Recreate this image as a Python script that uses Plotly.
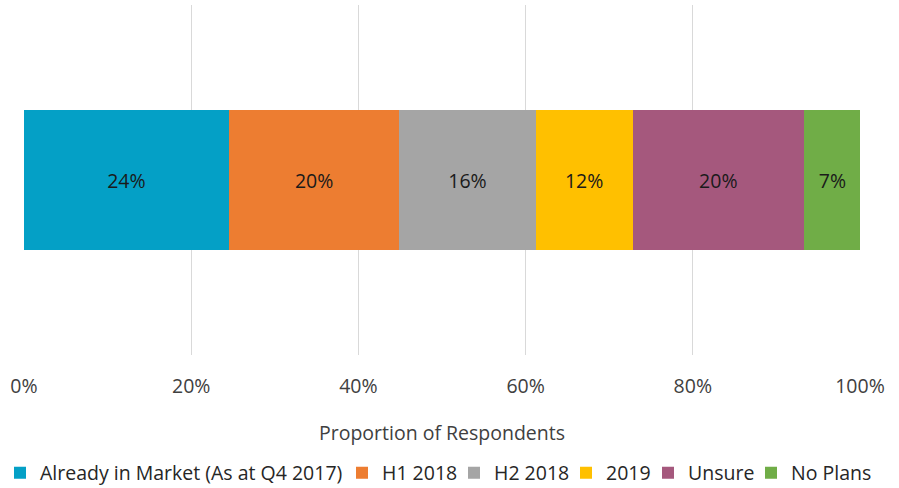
import plotly.graph_objects as go

categories = ["Already in Market (As at Q4 2017)", "H1 2018", "H2 2018", "2019", "Unsure", "No Plans"]
values = [24.5, 20.4, 16.3, 11.6, 20.5, 6.8]
labels = ["24%", "20%", "16%", "12%", "20%", "7%"]
colors = ["#04A0C6", "#ED7D31", "#A5A5A5", "#FFC000", "#A5587D", "#70AD47"]
tick_vals = [0, 20, 40, 60, 80, 100]
tick_text = ["0%", "20%", "40%", "60%", "80%", "100%"]
axis_title = "Proportion of Respondents"

# legend text start positions (px) for each entry
legend_text_px = [40, 382, 494, 606, 688, 791]

W, H = 899, 488
FONT = "Open Sans"

fig = go.Figure()
legend_names = ["legend", "legend2", "legend3", "legend4", "legend5", "legend6"]
for name, v, lab, c, lg in zip(categories, values, labels, colors, legend_names):
    fig.add_trace(go.Bar(
        x=[v], y=["Respondents"], name=name, orientation="h",
        marker=dict(color=c, line=dict(width=0)),
        text=[lab], textposition="inside", insidetextanchor="middle",
        textfont=dict(family=FONT, size=19.5, color="#1a1a1a"),
        hoverinfo="skip", legend=lg,
    ))

layout_legends = {}
for lg, tx in zip(legend_names, legend_text_px):
    layout_legends[lg] = dict(
        orientation="h", xref="container", yref="container",
        x=(tx - 40) / W, xanchor="left", y=1 - 473 / H, yanchor="middle",
        font=dict(family=FONT, size=19.5, color="#262626"),
        itemwidth=30, bgcolor="rgba(0,0,0,0)", borderwidth=0,
    )

fig.update_layout(
    barmode="stack",
    bargap=0.6,
    width=W, height=H,
    margin=dict(l=24, r=39, t=5, b=133, autoexpand=False),
    paper_bgcolor="white", plot_bgcolor="white",
    font=dict(family=FONT, size=19.5, color="#404040"),
    showlegend=True,
    uniformtext=dict(mode="show", minsize=10),
    **layout_legends,
)
fig.add_annotation(text=axis_title, xref="paper", yref="paper", x=0.5, y=-0.22,
                   xanchor="center", yanchor="middle", showarrow=False,
                   font=dict(family=FONT, size=19.5, color="#404040"))
fig.update_xaxes(range=[0, 100], tickvals=tick_vals, ticktext=tick_text,
                 showgrid=True, gridcolor="#D9D9D9", gridwidth=1,
                 zeroline=False, showline=False, ticks="", automargin=False,
                 ticklabelstandoff=17,
                 tickfont=dict(family=FONT, size=19.5, color="#404040"))
fig.update_yaxes(showticklabels=False, showgrid=False, zeroline=False, showline=False,
                 automargin=False)

fig.write_html("out.html",
               config={"displayModeBar": False, "staticPlot": True},
               post_script="document.body.style.margin='0';document.body.style.overflow='hidden';")
